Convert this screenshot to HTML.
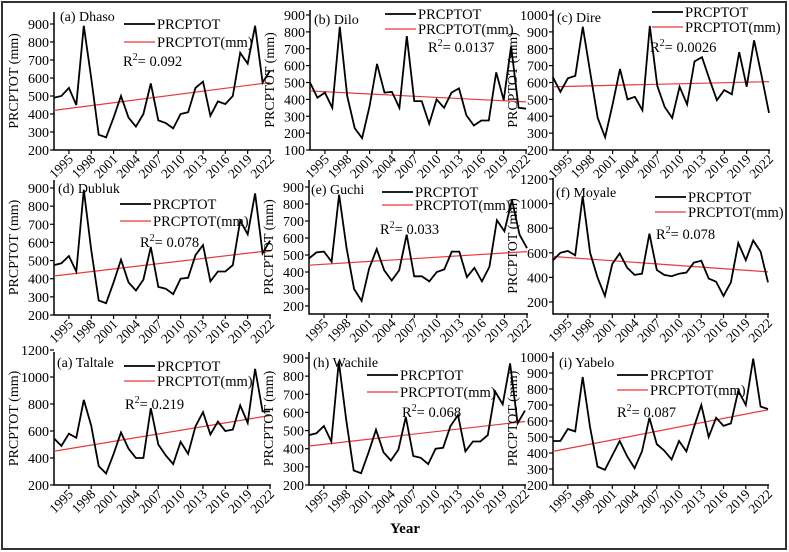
<!DOCTYPE html>
<html><head><meta charset="utf-8"><style>
body{margin:0;background:#fff;}
svg{display:block;}
svg text{font-family:"Liberation Serif",serif;}
</style></head><body>
<svg id="fig" width="789" height="552" viewBox="0 0 789 552" font-family="Liberation Serif, serif">
<rect x="2" y="2" width="784" height="547" fill="#fff" stroke="#333" stroke-width="2"/>
<text x="405" y="533" font-size="15" font-weight="bold" text-anchor="middle">Year</text>
</svg>
<script>
const years = [1993,1994,1995,1996,1997,1998,1999,2000,2001,2002,2003,2004,2005,2006,2007,2008,2009,2010,2011,2012,2013,2014,2015,2016,2017,2018,2019,2020,2021,2022];
const tickYears = [1995,1998,2001,2004,2007,2010,2013,2016,2019,2022];
const dhaso = [490,500,545,450,890,600,285,270,380,500,380,330,400,570,365,350,320,400,410,545,580,390,470,455,500,740,680,890,575,640];
const dilo = [500,410,440,350,830,420,230,170,360,610,440,445,350,775,390,390,255,400,350,440,465,305,245,275,275,560,395,715,350,345];
const dire = [630,545,625,640,930,660,390,275,470,680,500,515,435,935,580,455,390,575,470,725,750,620,495,555,530,780,575,850,640,420];
const dubluk = [475,485,525,440,890,560,280,265,380,505,380,335,395,575,355,345,315,400,405,530,585,385,440,440,475,720,645,870,540,610];
const guchi = [480,515,520,460,855,540,300,230,420,535,410,350,410,620,375,375,345,400,415,520,520,370,425,345,430,705,640,825,620,540];
const moyale = [540,600,615,580,1060,600,400,250,510,595,480,420,430,755,460,420,410,430,440,520,535,390,365,250,360,680,540,700,610,360];
const taltale = [545,490,580,550,830,640,340,285,430,590,470,400,400,770,500,420,355,520,430,635,740,575,670,600,610,790,660,1060,745,745];
const wachile = [475,485,525,440,880,560,280,265,380,505,380,335,395,575,360,350,315,400,405,525,585,385,440,440,475,715,645,870,540,610];
const yabelo = [475,475,550,535,875,560,315,295,385,475,380,305,410,620,455,415,360,475,410,560,700,500,620,570,585,790,700,990,690,675];
const trendStart = [420,450,575,415,440,570,450,415,410];
const trendEnd = [575,385,605,555,520,445,715,550,670];
const r2Labels = ["0.092","0.0137","0.0026","0.078","0.033","0.078","0.219","0.068","0.087"];
const titles = ["(a) Dhaso","(b) Dilo","(c) Dire","(d) Dubluk","(e) Guchi","(f) Moyale","(a) Taltale","(h) Wachile","(i) Yabelo"];
const ticksA = [200,300,400,500,600,700,800,900];
const ticksB = [100,200,300,400,500,600,700,800,900];
const ticksC = [200,300,400,500,600,700,800,900,1000];
const ticksE = [200,300,400,500,600,700,800,900];
const ticksF = [200,400,600,800,1000,1200];
const ticksG = [200,400,600,800,1000,1200];
const ticksI = [200,300,400,500,600,700,800,900,1000];
const series = [dhaso,dilo,dire,dubluk,guchi,moyale,taltale,wachile,yabelo];
const tickSets = [ticksA,ticksB,ticksC,ticksA,ticksE,ticksF,ticksG,ticksA,ticksI];

const L = [
 {x0:54,x1:270,v1:900,p1:24,v2:200,p2:150,top:12,bot:150,lx:124,ly1:24,ly2:42,rx:123,ry:66,tx:60,ty:21},
 {x0:310,x1:526,v1:900,p1:15,v2:100,p2:150,top:10,bot:150,lx:385,ly1:14,ly2:29,rx:428,ry:52,tx:314,ty:24},
 {x0:553,x1:769,v1:1000,p1:15,v2:200,p2:150,top:10,bot:150,lx:652,ly1:12,ly2:27,rx:650,ry:52,tx:557,ty:22},
 {x0:54,x1:270,v1:900,p1:188,v2:200,p2:315,top:180,bot:315,lx:120,ly1:204,ly2:221,rx:140,ry:247,tx:58,ty:193},
 {x0:309,x1:527,v1:900,p1:187,v2:200,p2:306,top:180,bot:314,lx:382,ly1:192,ly2:205,rx:380,ry:234,tx:311,ty:194},
 {x0:553,x1:768,v1:1200,p1:179,v2:200,p2:302,top:178,bot:314,lx:655,ly1:197,ly2:212,rx:656,ry:239,tx:556,ty:197},
 {x0:54,x1:270,v1:1000,p1:377,v2:200,p2:485,top:352,bot:485,lx:124,ly1:366,ly2:381,rx:125,ry:409,tx:57,ty:367},
 {x0:309,x1:525,v1:900,p1:358,v2:200,p2:485,top:352,bot:485,lx:367,ly1:375,ly2:392,rx:402,ry:417,tx:313,ty:367},
 {x0:553,x1:768,v1:1000,p1:357,v2:200,p2:485,top:352,bot:485,lx:617,ly1:375,ly2:390,rx:617,ry:417,tx:559,ty:367}
];
const NS="http://www.w3.org/2000/svg";
const svg=document.getElementById('fig');
function mk(tag,attrs,parent,txt){const e=document.createElementNS(NS,tag);for(const k in attrs)e.setAttribute(k,attrs[k]);if(tag==='text')e.setAttribute('font-family','Liberation Serif, serif');if(txt!==undefined)e.textContent=txt;parent.appendChild(e);return e;}
L.forEach((c,i)=>{
  const g=mk('g',{},svg);
  
  
  const xs=y=>c.x0+(y-years[0])/(years[years.length-1]-years[0])*(c.x1-c.x0);
  const ys=v=>c.p2+(v-c.v2)/(c.v1-c.v2)*(c.p1-c.p2);
  const ax=mk('path',{d:`M${c.x0},${c.top}V${c.bot}H${c.x1+1}`,fill:'none',stroke:'#000','stroke-width':1.5},g);
  
  
  tickSets[i].forEach(t=>{
    const y=ys(t);
    mk('line',{x1:c.x0-4,x2:c.x0,y1:y,y2:y,stroke:'#000','stroke-width':1.2},g);
    const tl=mk('text',{x:c.x0-5,y:y+5,'font-size':14,'text-anchor':'end'},g,String(t));
    
    
  });
  tickYears.forEach(t=>{
    const x=xs(t);
    mk('line',{x1:x,x2:x,y1:c.bot,y2:c.bot+4,stroke:'#000','stroke-width':1.2},g);
    const tl=mk('text',{x:x+5,y:c.bot+10,'font-size':13.5,'text-anchor':'end',transform:`rotate(-45 ${x+5} ${c.bot+10})`},g,String(t));
    
    
  });
  const yt=mk('text',{x:0,y:0,'font-size':14,'text-anchor':'middle',transform:`translate(${c.x0-36},${(c.top+c.bot)/2}) rotate(-90)`},g,'PRCPTOT (mm)');
  
  
  const tr=mk('line',{x1:xs(years[0]),y1:ys(trendStart[i]),x2:xs(years[years.length-1]),y2:ys(trendEnd[i]),stroke:'#e8383b','stroke-width':1.2},g);
  
  
  const d=series[i].map((v,k)=>(k?'L':'M')+xs(years[k]).toFixed(1)+','+ys(v).toFixed(1)).join('');
  const ln=mk('path',{d:d,fill:'none',stroke:'#000','stroke-width':1.8,'stroke-linejoin':'miter'},g);
  
  
  const ti=mk('text',{x:c.tx,y:c.ty,'font-size':14},g,titles[i]);
  
  
  const lg=mk('g',{},g);
  
  
  mk('line',{x1:c.lx,x2:c.lx+31,y1:c.ly1,y2:c.ly1,stroke:'#000','stroke-width':1.8},lg);
  mk('text',{x:c.lx+33,y:c.ly1+5,'font-size':14.5},lg,'PRCPTOT');
  mk('line',{x1:c.lx,x2:c.lx+31,y1:c.ly2,y2:c.ly2,stroke:'#e8383b','stroke-width':1.2},lg);
  mk('text',{x:c.lx+33,y:c.ly2+5,'font-size':14.5},lg,'PRCPTOT(mm)');
  const r=mk('text',{x:c.rx,y:c.ry,'font-size':14.5},g);
  
  
  mk('tspan',{},r,'R');
  mk('tspan',{dy:-6,'font-size':10},r,'2');
  mk('tspan',{dy:6},r,'= '+r2Labels[i]);
});
</script>
</body></html>
